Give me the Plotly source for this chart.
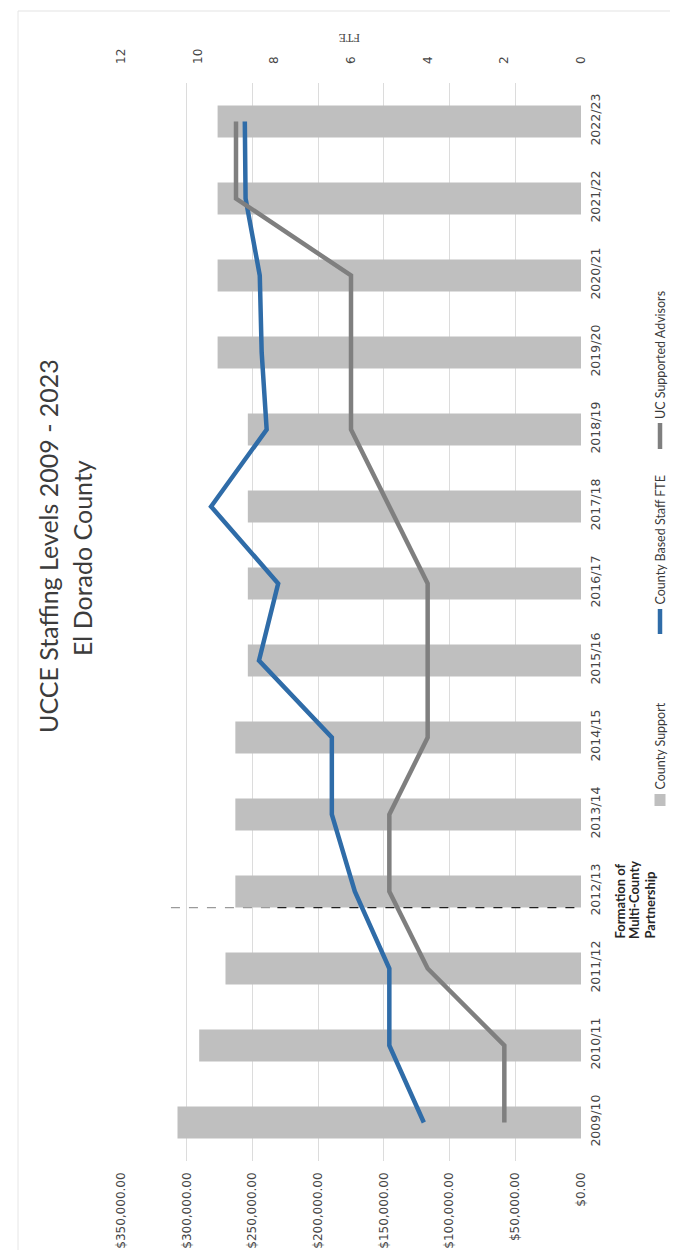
import plotly.graph_objects as go

# ---------------- data ----------------
categories = ['2009/10', '2010/11', '2011/12', '2012/13', '2013/14', '2014/15', '2015/16',
              '2016/17', '2017/18', '2018/19', '2019/20', '2020/21', '2021/22', '2022/23']
county_support = [307000, 290500, 270500, 263000, 263000, 263000, 253500,
                  253500, 253500, 253500, 276500, 276500, 276500, 276500]
county_fte = [4.1, 5.0, 5.0, 5.9, 6.5, 6.5, 8.4, 7.9, 9.65, 8.2, 8.33, 8.38, 8.75, 8.77]
uc_advisors = [2, 2, 4, 5, 5, 4, 4, 4, 5, 6, 6, 6, 9, 9]
dollar_ticks = [0, 50000, 100000, 150000, 200000, 250000, 300000, 350000]
fte_ticks = [0, 2, 4, 6, 8, 10, 12]
partnership_pos = 2.79          # between 2011/12 and 2012/13
partnership_top = 312000
partnership_split = 231000
partnership_lines = ['Formation of', 'Multi-County', 'Partnership']
legend_labels = ['County Support', 'County Based Staff FTE', 'UC Supported Advisors']

# ---------------- geometry ----------------
W, H = 678, 1250
ML, MR, MT, MB = 113, 105, 75, 97
PW, PH = W - ML - MR, H - MT - MB


def px(x):
    return (x - ML) / PW


def py(y):
    return (H - MB - y) / PH


BAR_C = '#bfbfbf'
BLUE = '#2f6ca8'
GRAY = '#7f7f7f'
TXT = '#454545'

fig = go.Figure()
fig.add_trace(go.Bar(y=categories, x=county_support, orientation='h',
                     marker=dict(color=BAR_C, line=dict(width=0)),
                     name=legend_labels[0], showlegend=False))
fig.add_trace(go.Scatter(y=categories, x=county_fte, xaxis='x2', mode='lines',
                         line=dict(color=BLUE, width=4.5), name=legend_labels[1],
                         showlegend=False))
fig.add_trace(go.Scatter(y=categories, x=uc_advisors, xaxis='x2', mode='lines',
                         line=dict(color=GRAY, width=4.5), name=legend_labels[2],
                         showlegend=False))

shapes = []
# partnership dashed line
shapes.append(dict(type='line', xref='x', yref='y', x0=partnership_top, x1=partnership_split,
                   y0=partnership_pos, y1=partnership_pos,
                   line=dict(color='#9a9a9a', width=1.2, dash='dash')))
shapes.append(dict(type='line', xref='x', yref='y', x0=partnership_split, x1=0,
                   y0=partnership_pos, y1=partnership_pos,
                   line=dict(color='#1e1e1e', width=1.3, dash='dash')))
# faint page frame
shapes.append(dict(type='line', xref='paper', yref='paper', x0=px(10), x1=px(678),
                   y0=py(3), y1=py(3), line=dict(color='#e3e3e3', width=1)))
shapes.append(dict(type='line', xref='paper', yref='paper', x0=px(10), x1=px(10),
                   y0=py(3), y1=py(1250), line=dict(color='#e6e6e6', width=1)))

# legend markers
LEG_X = 652
shapes.append(dict(type='rect', xref='paper', yref='paper', x0=px(LEG_X - 5.5), x1=px(LEG_X + 5.5),
                   y0=py(798), y1=py(786), fillcolor=BAR_C, line=dict(width=0)))
shapes.append(dict(type='line', xref='paper', yref='paper', x0=px(LEG_X), x1=px(LEG_X),
                   y0=py(626), y1=py(601), line=dict(color=BLUE, width=4.5)))
shapes.append(dict(type='line', xref='paper', yref='paper', x0=px(LEG_X), x1=px(LEG_X),
                   y0=py(441), y1=py(415), line=dict(color=GRAY, width=4.5)))

annotations = []
LEG_FONT = dict(family='Lato', size=12.5, color='#3a3a3a')
for label, start in zip(legend_labels, [784, 599, 413]):
    annotations.append(dict(text=label, xref='paper', yref='paper', x=px(LEG_X), y=py(start),
                            xanchor='center', yanchor='bottom', textangle=-90, showarrow=False,
                            font=LEG_FONT))
# partnership label (three lines, left aligned -> bottom aligned when rotated)
for line, xline in zip(partnership_lines, [611, 626, 641]):
    annotations.append(dict(text='<b>' + line + '</b>', xref='paper', yref='paper',
                            x=px(xline), y=py(933), xanchor='center', yanchor='bottom',
                            textangle=-90, showarrow=False,
                            font=dict(family='Lato', size=13, color='#262626')))
# title
annotations.append(dict(text='UCCE Staffing Levels 2009 - 2023', xref='paper', yref='paper',
                        x=px(40), y=py(538), xanchor='center', yanchor='middle', textangle=-90,
                        showarrow=False, font=dict(family='Lato', size=25, color='#3c3c3c')))
annotations.append(dict(text='El Dorado County', xref='paper', yref='paper',
                        x=px(74), y=py(550), xanchor='center', yanchor='middle', textangle=-90,
                        showarrow=False, font=dict(family='Lato', size=25, color='#3c3c3c')))
# FTE axis title (upside down in the rotated scan)
annotations.append(dict(text='FTE', xref='paper', yref='paper', x=px(342), y=py(30),
                        xanchor='center', yanchor='middle', textangle=180, showarrow=False,
                        font=dict(family='Liberation Serif', size=12, color=TXT)))

fig.update_layout(
    width=W, height=H,
    margin=dict(l=ML, r=MR, t=MT, b=MB, autoexpand=False),
    paper_bgcolor='white', plot_bgcolor='white',
    bargap=0.585,
    showlegend=False,
    xaxis=dict(range=[350000, 0], tickvals=dollar_ticks, tickformat='$,.2f', tickangle=-90,
               showgrid=True, gridcolor='#dcdcdc', gridwidth=1, zeroline=False, showline=False,
               ticks='', ticklabelstandoff=8,
               tickfont=dict(family='DejaVu Sans', size=12, color=TXT), fixedrange=True),
    xaxis2=dict(range=[12, 0], tickvals=fte_ticks, overlaying='x', side='top', tickangle=-90,
                showgrid=False, zeroline=False, showline=False, ticks='', ticklabelstandoff=18,
                tickfont=dict(family='DejaVu Sans', size=12, color=TXT), fixedrange=True),
    yaxis=dict(type='category', categoryorder='array', categoryarray=categories,
               range=[-0.5, len(categories) - 0.5], side='right', tickangle=-90,
               showgrid=False, zeroline=False, showline=False, ticks='', ticklabelstandoff=5,
               tickfont=dict(family='DejaVu Sans', size=12.5, color=TXT), fixedrange=True),
    shapes=shapes,
    annotations=annotations,
)

fig.write_html('out.html')
